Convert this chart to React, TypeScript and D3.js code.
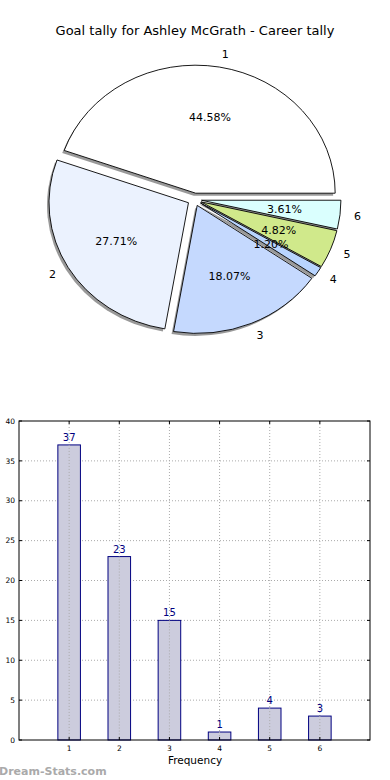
import React from "react";
import * as d3 from "d3";

const categories = ["1", "2", "3", "4", "5", "6"];
const goals = [37, 23, 15, 1, 4, 3];
const sliceColors = ["#ffffff", "#ebf2fe", "#c5d9fe", "#b8d4fe", "#d0e98b", "#dafffe"];
const yTicks = [0, 5, 10, 15, 20, 25, 30, 35, 40];
const xTicks = [1, 2, 3, 4, 5, 6];
const title = "Goal tally for Ashley McGrath - Career tally";

const FONT = "'DejaVu Sans', sans-serif";

export default function App() {
  const W = 390, H = 780;
  // pie geometry
  const cx = 194.5, cy = 199.5, rx = 139.5, ry = 128;
  const explode = 0.05;
  const total = d3.sum(goals);
  const pie = d3.pie<number>().sort(null).startAngle(0).endAngle(2 * Math.PI)(goals);

  const slices = pie.map((p, i) => {
    const a0 = p.startAngle, a1 = p.endAngle;
    const mid = (a0 + a1) / 2;
    const ox = cx + explode * rx * Math.cos(mid);
    const oy = cy - explode * ry * Math.sin(mid);
    const x0 = ox + rx * Math.cos(a0), y0 = oy - ry * Math.sin(a0);
    const x1 = ox + rx * Math.cos(a1), y1 = oy - ry * Math.sin(a1);
    const large = a1 - a0 > Math.PI ? 1 : 0;
    const d = `M${ox},${oy}L${x0},${y0}A${rx},${ry} 0 ${large} 0 ${x1},${y1}Z`;
    const lx = ox + 1.1 * rx * Math.cos(mid);
    const ly = oy - 1.1 * ry * Math.sin(mid);
    const px = ox + 0.6 * rx * Math.cos(mid);
    const py = oy - 0.6 * ry * Math.sin(mid);
    return { d, i, lx, ly, px, py, anchor: Math.cos(mid) > 0 ? "start" : "end", pct: ((p.value / total) * 100).toFixed(2) + "%" };
  });

  // bar chart
  const left = 19, right = 370, top = 421, bottom = 740;
  const x = d3.scaleLinear().domain([0, 7]).range([left, right]);
  const y = d3.scaleLinear().domain([0, 40]).range([bottom, top]);
  const bw = 0.45;

  return (
    <svg width={W} height={H} style={{ position: "absolute", left: 0, top: 0, background: "#fff" }} fontFamily={FONT}>
      <text x={195} y={34.5} textAnchor="middle" fontSize={13} fill="#000">{title}</text>
      {slices.map(s => (
        <path key={"sh" + s.i} d={s.d} transform="translate(-2,2.5)" fill="#000" fillOpacity={0.4} stroke="none" />
      ))}
      {slices.map(s => (
        <path key={"sl" + s.i} d={s.d} fill={sliceColors[s.i]} stroke="#000" strokeWidth={0.9} strokeLinejoin="round" />
      ))}
      {slices.map(s => (
        <text key={"lb" + s.i} x={s.lx} y={s.ly} dy="0.35em" textAnchor={s.anchor} fontSize={11} fill="#000">{categories[s.i]}</text>
      ))}
      {slices.map(s => (
        <text key={"pc" + s.i} x={s.px} y={s.py} dy="0.35em" textAnchor="middle" fontSize={11} fill="#000">{s.pct}</text>
      ))}

      {/* grid */}
      {yTicks.filter(t => t > 0 && t < 40).map(t => (
        <line key={"gy" + t} x1={left} x2={right} y1={y(t)} y2={y(t)} stroke="#aaa" strokeWidth={1} strokeDasharray="1,2" />
      ))}
      {xTicks.map(t => (
        <line key={"gx" + t} x1={x(t)} x2={x(t)} y1={top} y2={bottom} stroke="#aaa" strokeWidth={1} strokeDasharray="1,2" />
      ))}
      {/* bars */}
      {goals.map((v, i) => (
        <g key={"b" + i}>
          <rect x={x(xTicks[i] - bw / 2)} y={y(v)} width={x(bw) - x(0)} height={bottom - y(v)} fill="#ccccdd" fillOpacity={1} stroke="#000080" strokeWidth={1} />
          <line x1={x(xTicks[i])} x2={x(xTicks[i])} y1={y(v)} y2={bottom} stroke="#aaa" strokeWidth={1} strokeDasharray="1,2" />
          <text x={x(xTicks[i])} y={y(v) - 4} textAnchor="middle" fontSize={10} fill="#000080">{v}</text>
        </g>
      ))}
      {/* ticks */}
      {yTicks.map(t => (
        <g key={"ty" + t}>
          <line x1={left} x2={left + 3} y1={y(t)} y2={y(t)} stroke="#000" />
          <line x1={right} x2={right - 3} y1={y(t)} y2={y(t)} stroke="#000" />
          <text x={left - 4} y={y(t)} dy="0.35em" textAnchor="end" fontSize={7.5} fill="#000">{t}</text>
        </g>
      ))}
      {xTicks.map(t => (
        <g key={"tx" + t}>
          <line x1={x(t)} x2={x(t)} y1={bottom} y2={bottom - 3} stroke="#000" />
          <line x1={x(t)} x2={x(t)} y1={top} y2={top + 3} stroke="#000" />
          <text x={x(t)} y={bottom + 11} textAnchor="middle" fontSize={7.5} fill="#000">{t}</text>
        </g>
      ))}
      <rect x={left} y={top} width={right - left} height={bottom - top} fill="none" stroke="#000" strokeWidth={1} />
      <text x={195} y={764} textAnchor="middle" fontSize={10.5} fill="#000">Frequency</text>
      <text x={-1} y={775} fontSize={11} fontWeight="bold" fill="#aaa" fontFamily="'DejaVu Sans', sans-serif">Dream-Stats.com</text>
    </svg>
  );
}
